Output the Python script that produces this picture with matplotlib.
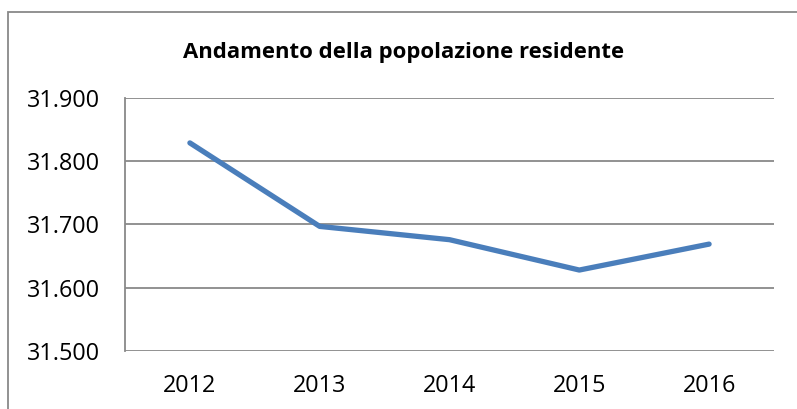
import matplotlib
matplotlib.use("Agg")
import matplotlib.pyplot as plt
from matplotlib.patches import Rectangle
from matplotlib.ticker import FuncFormatter

# Population by year
years = ["2012", "2013", "2014", "2015", "2016"]
population = [31829, 31697, 31676, 31628, 31669]

y_ticks = [31500, 31600, 31700, 31800, 31900]

GRID = "#898989"
LINE = "#4A7EBB"

plt.rcParams["font.family"] = ["Open Sans", "DejaVu Sans"]

fig = plt.figure(figsize=(7.97, 4.09), dpi=100)
ax = fig.add_axes([125 / 797, 58 / 409, 649 / 797, 253 / 409])

# outer chart border (only left and top are visible in the crop)
fig.patches.append(Rectangle((8 / 797, -0.2), 1.2, (409 - 12) / 409 + 0.2,
                             transform=fig.transFigure, fill=False,
                             edgecolor=GRID, linewidth=1.3))

x = range(len(years))
ax.plot(x, population, color=LINE, linewidth=3.8, solid_capstyle="round",
        solid_joinstyle="round", zorder=3)

ax.set_xlim(-0.5, len(years) - 0.5)
ax.set_ylim(y_ticks[0], y_ticks[-1])
ax.set_xticks(list(x))
ax.set_xticklabels(years)
ax.set_yticks(y_ticks)
ax.yaxis.set_major_formatter(FuncFormatter(lambda v, p: f"{int(v):,}".replace(",", ".")))

ax.grid(axis="y", color=GRID, linewidth=1.3)
ax.set_axisbelow(True)
for side in ["top", "right", "bottom"]:
    ax.spines[side].set_visible(False)
ax.spines["left"].set_color(GRID)
ax.spines["left"].set_linewidth(1.3)
ax.tick_params(axis="both", length=0, labelsize=16.8, colors="black")
ax.tick_params(axis="y", pad=18)
ax.tick_params(axis="x", pad=16.5)

fig.text(404 / 797, (409 - 58) / 409, "Andamento della popolazione residente",
         ha="center", va="baseline", fontsize=15.9, fontweight="bold")

fig.savefig("out.png", dpi=100)
